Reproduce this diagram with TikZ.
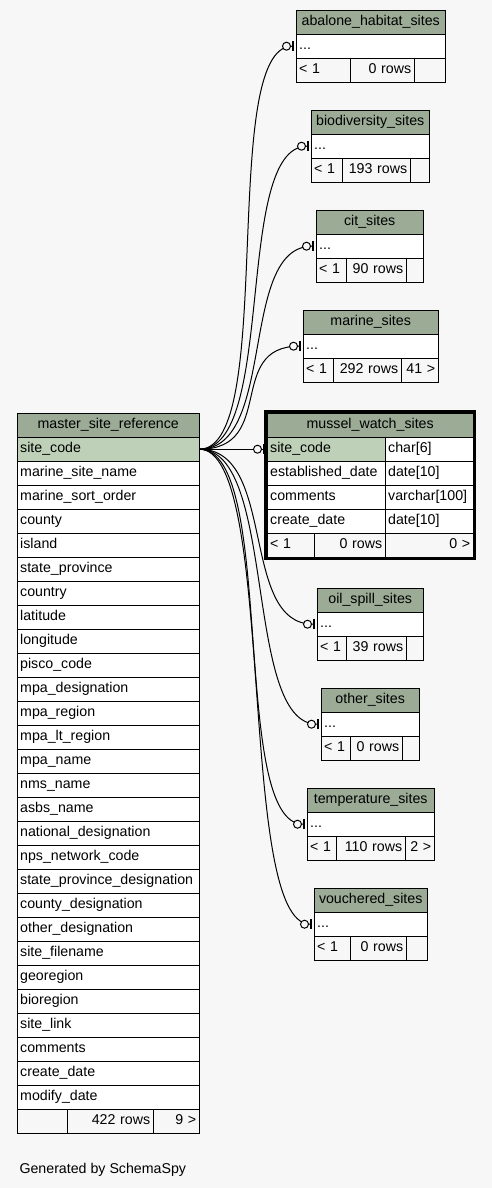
\documentclass[tikz,border=0pt]{standalone}
\usepackage{fontspec}
\setmainfont{Liberation Sans}
\usepackage{tikz}
\usetikzlibrary{arrows.meta}
\definecolor{pagebg}{HTML}{F7F7F7}
\definecolor{headgreen}{HTML}{9BAB96}
\definecolor{keygreen}{HTML}{BED1B8}

\begin{document}
\begin{tikzpicture}[x=1pt, y=-1pt,
    cell/.style={draw=black, fill=white, anchor=north west, minimum height=24pt,
      inner xsep=3pt, inner ysep=0pt, text height=10pt, text depth=3pt,
      align=left, font=\fontsize{14.2}{17}\selectfont},
    head/.style={cell, fill=headgreen, align=center},
    key/.style={cell, fill=keygreen},
    foot/.style={cell, fill=pagebg},
    fk/.style={line width=1pt, shorten >=2pt,
      -{Circle[length=9pt, width=9pt, fill=pagebg, sep=0.5pt]Bar[width=10pt, line width=2.5pt]}},
  ]
    \fill[pagebg] (0,0) rectangle (492,1188);
    \useasboundingbox (0,0) rectangle (492,1188);

    % master table
    \node[head, text width=176pt] (msr-head) at (17,413) {master\_site\_reference};
    \node[key, text width=176pt] (msr-key) at (17,437) {site\_code};
    \foreach \col [count=\i] in {marine\_site\_name, marine\_sort\_order, county, island,
        state\_province, country, latitude, longitude, pisco\_code, mpa\_designation,
        mpa\_region, mpa\_lt\_region, mpa\_name, nms\_name, asbs\_name,
        national\_designation, nps\_network\_code, state\_province\_designation,
        county\_designation, other\_designation, site\_filename, georegion, bioregion,
        site\_link, comments, create\_date, modify\_date}
      \node[cell, text width=176pt] (msr-\i) at (17,437+24*\i) {\col};
    \node[foot, text width=44pt] (msr-f1) at (17,1109) {};
    \node[foot, align=right, text width=80pt] (msr-f2) at (67,1109) {422 rows};
    \node[foot, align=right, text width=40pt] (msr-f3) at (153,1109) {9 >};

    % mussel_watch_sites (selected table)
    \node[head, text width=200pt] (mws-head) at (267,413) {mussel\_watch\_sites};
    \node[key, text width=112pt] (mws-key) at (267,437) {site\_code};
    \node[cell, text width=82pt] (mws-key-t) at (385,437) {char[6]};
    \foreach \col/\typ [count=\i] in {established\_date/date[10], comments/varchar[100],
        create\_date/date[10]} {
      \node[cell, text width=112pt] (mws-\i) at (267,437+24*\i) {\col};
      \node[cell, text width=82pt] (mws-\i-t) at (385,437+24*\i) {\typ};
    }
    \node[foot, text width=41pt] (mws-f1) at (267,533) {< 1};
    \node[foot, align=right, text width=65pt] (mws-f2) at (314,533) {0 rows};
    \node[foot, align=right, text width=82pt] (mws-f3) at (385,533) {0 >};
    \draw[line width=3pt] (265.5,411.5) rectangle (474.5,558.5);

    % child tables
    \foreach \nm/\lbl/\x/\y/\wa/\wb/\wc/\rows/\more in {
        abalone/abalone\_habitat\_sites/296/10/54/64/31/0 rows/{},
        biodiv/biodiversity\_sites/311/110/31/68/19/193 rows/{},
        cit/cit\_sites/316/210/30/60/17/90 rows/{},
        marine/marine\_sites/303/310/30/68/37/292 rows/41 >,
        oil/oil\_spill\_sites/317/588/29/60/17/39 rows/{},
        other/other\_sites/321/688/29/52/17/0 rows/{},
        temp/temperature\_sites/307/788/29/69/29/110 rows/2 >,
        vouch/vouchered\_sites/314/888/36/56/21/0 rows/{}} {
      \pgfmathsetmacro\tw{\wa+\wb+\wc-6}
      \pgfmathsetmacro\twa{\wa-6}
      \pgfmathsetmacro\twb{\wb-6}
      \pgfmathsetmacro\twc{\wc-6}
      \node[head, text width=\tw pt] (\nm-head) at (\x,\y) {\lbl};
      \node[cell, text width=\tw pt] (\nm-key) at (\x,\y+24) {...};
      \node[foot, text width=\twa pt] (\nm-f1) at (\x,\y+48) {< 1};
      \node[foot, align=right, text width=\twb pt] (\nm-f2) at (\x+\wa,\y+48) {\rows};
      \node[foot, align=right, text width=\twc pt] (\nm-f3) at (\x+\wa+\wb,\y+48) {\more};
    }

    % relationships
    \draw[fk] (msr-key.east) -- (mws-key.west);
    \foreach \nm in {abalone, biodiv, cit, marine, oil, other, temp, vouch}
      \draw[fk] (msr-key.east) .. controls +(78,0) and +(-78,0) .. (\nm-key.west);

    \node[anchor=base west, font=\fontsize{14.2}{17}\selectfont] (credit) at (16,1173) {Generated by SchemaSpy};
  \end{tikzpicture}
\end{document}
